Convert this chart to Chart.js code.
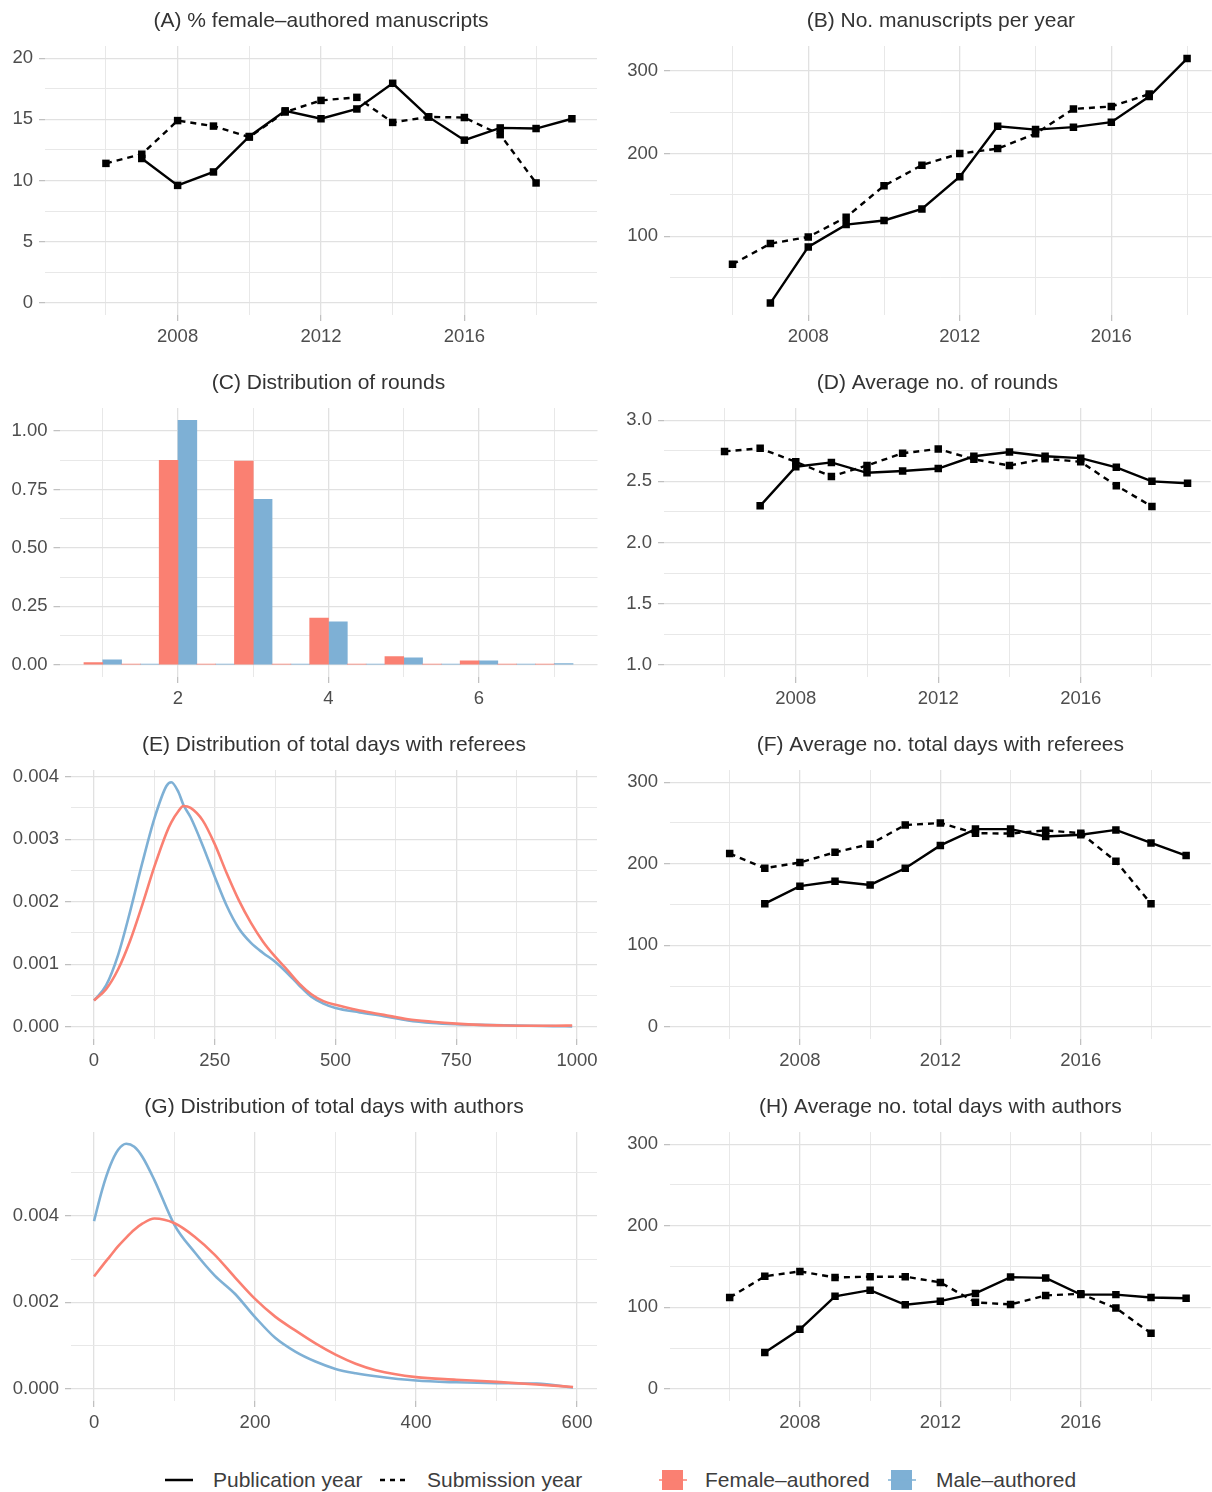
<!DOCTYPE html>
<html>
<head>
<meta charset="utf-8">
<script src="https://cdn.jsdelivr.net/npm/chart.js@4.4.0/dist/chart.umd.min.js"></script>
<style>
  body { margin: 0; background: #fff; }
  #wrap { position: relative; width: 1212px; height: 1492px; overflow: hidden; font-family: "Liberation Sans", Arial, Helvetica, sans-serif; }
  #wrap canvas { position: absolute; }
  .leg { position: absolute; top: 1468px; font-size: 21px; line-height: 24px; color: #3d3d3d; white-space: nowrap; }
  .key { position: absolute; }
</style>
</head>
<body>
<div id="wrap">
  <svg class="key" style="left:163px;top:1470px" width="32" height="20"><line x1="2" y1="10" x2="30" y2="10" stroke="#000" stroke-width="2.5"/></svg>
  <span class="leg" style="left:213px">Publication year</span>
  <svg class="key" style="left:378px;top:1470px" width="32" height="20"><line x1="2" y1="10" x2="30" y2="10" stroke="#000" stroke-width="2.5" stroke-dasharray="5,5"/></svg>
  <span class="leg" style="left:427px">Submission year</span>
  <svg class="key" style="left:659px;top:1469px" width="28" height="22"><rect x="3" y="1" width="21" height="20" fill="#FA8072"/><line x1="0" y1="11" x2="28" y2="11" stroke="#FA8072" stroke-width="1.5"/></svg>
  <span class="leg" style="left:705px">Female–authored</span>
  <svg class="key" style="left:888px;top:1469px" width="28" height="22"><rect x="3" y="1" width="21" height="20" fill="#7EB0D5"/><line x1="0" y1="11" x2="28" y2="11" stroke="#7EB0D5" stroke-width="1.5"/></svg>
  <span class="leg" style="left:936px">Male–authored</span>
</div>
<script>
Chart.defaults.font.family = '"Liberation Sans", Arial, Helvetica, sans-serif';
Chart.defaults.color = '#4d4d4d';
Chart.defaults.animation = false;

// ---- data ----
const pubYears = [2007, 2008, 2009, 2010, 2011, 2012, 2013, 2014, 2015, 2016, 2017, 2018, 2019];
const subYears = [2006, 2007, 2008, 2009, 2010, 2011, 2012, 2013, 2014, 2015, 2016, 2017, 2018];
const pubYearsB = [2007, 2008, 2009, 2010, 2011, 2012, 2013, 2014, 2015, 2016, 2017, 2018];
const subYearsB = [2006, 2007, 2008, 2009, 2010, 2011, 2012, 2013, 2014, 2015, 2016, 2017];

// (A) % female-authored
const aPub = [11.8, 9.6, 10.7, 13.6, 15.7, 15.05, 15.85, 17.95, 15.2, 13.3, 14.3, 14.25, 15.05];
const aSub = [11.4, 12.15, 14.9, 14.45, 13.55, 15.6, 16.55, 16.8, 14.75, 15.2, 15.15, 13.75, 9.8];

// (B) manuscripts per year
const bPub = [19, 87, 114, 119, 133, 172, 233, 229, 232, 238, 269, 315];
const bSub = [66, 91, 99, 123, 161, 186, 200, 206, 224, 254, 257, 272];

// (C) distribution of rounds (density, binwidth 0.5)
const roundBins = [1, 1.5, 2, 2.5, 3, 3.5, 4, 4.5, 5, 5.5, 6, 6.5, 7];
const roundsFemale = [0.009, 0.003, 0.875, 0.003, 0.871, 0.003, 0.2, 0.003, 0.035, 0.003, 0.017, 0.003, 0.003];
const roundsMale = [0.021, 0.003, 1.046, 0.003, 0.708, 0.003, 0.184, 0.003, 0.030, 0.003, 0.017, 0.003, 0.005];

// (D) average rounds
const dPub = [2.30, 2.62, 2.655, 2.57, 2.585, 2.605, 2.705, 2.74, 2.705, 2.69, 2.615, 2.50, 2.485];
const dSub = [2.745, 2.77, 2.66, 2.54, 2.63, 2.73, 2.765, 2.68, 2.63, 2.685, 2.66, 2.465, 2.295];

// (E) days with referees density
const refDays = [0, 25, 50, 75, 100, 125, 150, 160, 175, 185, 200, 225, 250, 275, 300, 325, 350, 375, 400, 425, 450, 475, 500, 550, 600, 650, 700, 750, 800, 850, 900, 950, 990];
const refFemale = [0.00042, 0.0006, 0.00092, 0.00138, 0.00195, 0.00256, 0.0031, 0.00327, 0.00345, 0.00353, 0.0035, 0.0033, 0.00292, 0.00245, 0.00202, 0.00166, 0.00136, 0.00112, 0.00091, 0.00069, 0.00052, 0.00041, 0.00035, 0.00026, 0.00019, 0.00012, 0.00008, 0.00005, 0.00003, 0.00002, 0.000016, 0.000016, 0.00002];
const refMale = [0.00042, 0.00066, 0.00115, 0.00185, 0.00262, 0.00333, 0.00385, 0.00391, 0.00375, 0.00355, 0.00335, 0.0029, 0.0024, 0.00193, 0.00157, 0.00134, 0.00118, 0.00104, 0.00086, 0.00066, 0.00048, 0.00037, 0.0003, 0.00023, 0.00017, 0.0001, 0.00006, 0.00004, 0.00003, 0.000025, 0.000015, 0.00001, 0.000005];

// (F) average days with referees
const fPub = [151, 172.5, 178.5, 174, 194.5, 222.5, 242.5, 242.5, 233.5, 235.5, 241.5, 225.5, 210];
const fSub = [212.5, 194.5, 201.5, 214, 224, 247.5, 250, 237.5, 237, 241, 237.5, 203, 151];

// (G) days with authors density
const authDays = [0, 10, 20, 30, 40, 50, 60, 75, 100, 125, 150, 175, 200, 225, 250, 275, 300, 325, 350, 400, 450, 500, 550, 595];
const authFemale = [0.0026, 0.00284, 0.00307, 0.0033, 0.0035, 0.00368, 0.00382, 0.00394, 0.00383, 0.00352, 0.0031, 0.00258, 0.00208, 0.00167, 0.00135, 0.00105, 0.00079, 0.00058, 0.00043, 0.00027, 0.00021, 0.00016, 0.0001, 0.00004];
const authMale = [0.00388, 0.0046, 0.00516, 0.00553, 0.00567, 0.0056, 0.00537, 0.00483, 0.00379, 0.00316, 0.00262, 0.0022, 0.00166, 0.00118, 0.00086, 0.00063, 0.00046, 0.00036, 0.00029, 0.00019, 0.00015, 0.00013, 0.00012, 0.00003];

// (H) average days with authors
const hPub = [44.5, 73, 113.5, 121, 103, 107.5, 117, 137, 136, 115.5, 115.5, 112, 111];
const hSub = [112, 138, 144, 136.5, 137.5, 137.5, 130.5, 106, 103.5, 114.5, 116.5, 99, 68];

// ---- ticks ----
const yearMajor = [2008, 2012, 2016];
const yearMinor = [2006, 2010, 2014, 2018];
const aYMajor = [0, 5, 10, 15, 20];
const aYMinor = [2.5, 7.5, 12.5, 17.5];
const bYMajor = [100, 200, 300];
const bYMinor = [50, 150, 250];
const cXMajor = [2, 4, 6];
const cXMinor = [1, 3, 5, 7];
const cYMajor = [0, 0.25, 0.5, 0.75, 1];
const cYMinor = [0.125, 0.375, 0.625, 0.875];
const dYMajor = [1, 1.5, 2, 2.5, 3];
const dYMinor = [1.25, 1.75, 2.25, 2.75];
const eXMajor = [0, 250, 500, 750, 1000];
const eXMinor = [125, 375, 625, 875];
const eYMajor = [0, 0.001, 0.002, 0.003, 0.004];
const eYMinor = [0.0005, 0.0015, 0.0025, 0.0035];
const daysYMajor = [0, 100, 200, 300];
const daysYMinor = [50, 150, 250];
const gXMajor = [0, 200, 400, 600];
const gXMinor = [100, 300, 500];
const gYMajor = [0, 0.002, 0.004];
const gYMinor = [0.001, 0.003, 0.005];

const FEMALE = '#FA8072';
const MALE = '#7EB0D5';

const pts = (xs, ys) => xs.map((x, i) => ({ x: x, y: ys[i] }));

function axis(range, major, minor, digits, size, isX) {
  const all = major.concat(minor).sort((a, b) => a - b);
  const isMajor = v => major.some(m => Math.abs(m - v) < 1e-9);
  const tv = ctx => ctx.tick ? ctx.tick.value : NaN;
  return {
    type: 'linear',
    min: range[0],
    max: range[1],
    offset: false,
    afterBuildTicks: s => { s.ticks = all.map(v => ({ value: v })); },
    afterFit: s => { if (isX) s.height = size; else s.width = size; },
    ticks: {
      autoSkip: false,
      maxRotation: 0,
      padding: isX ? 5 : 6,
      font: { size: 18.5 },
      color: '#4d4d4d',
      callback: v => isMajor(v) ? v.toFixed(digits) : ''
    },
    grid: {
      offset: false,
      color: ctx => isMajor(tv(ctx)) ? '#e1e1e1' : '#e8e8e8',
      lineWidth: ctx => isMajor(tv(ctx)) ? 1.3 : 1,
      tickLength: 6,
      tickColor: ctx => isMajor(tv(ctx)) ? '#bdbdbd' : 'rgba(0,0,0,0)',
      tickWidth: 1.2
    },
    border: { display: false }
  };
}

function yearLines(px, py, sx, sy) {
  const base = {
    borderColor: '#000', backgroundColor: '#000', borderWidth: 2.4,
    pointStyle: 'rect', pointRadius: 5.3, pointBorderWidth: 0,
    pointBackgroundColor: '#000', tension: 0
  };
  return [
    Object.assign({}, base, { label: 'Publication year', data: pts(px, py) }),
    Object.assign({}, base, { label: 'Submission year', data: pts(sx, sy), borderDash: [6, 5] })
  ];
}

function densLines(xs, f, m) {
  const base = { borderWidth: 2.6, pointRadius: 0, cubicInterpolationMode: 'monotone' };
  return [
    Object.assign({}, base, { label: 'Female–authored', data: pts(xs, f), borderColor: FEMALE }),
    Object.assign({}, base, { label: 'Male–authored', data: pts(xs, m), borderColor: MALE })
  ];
}

const wrap = document.getElementById('wrap');

function panel(left, top, type, title, datasets, xScale, yScale, padRight) {
  const c = document.createElement('canvas');
  c.width = 606; c.height = 360;
  c.style.left = left + 'px';
  c.style.top = top + 'px';
  wrap.appendChild(c);
  const chart = new Chart(c, {
    type: type,
    data: { datasets: datasets },
    options: {
      responsive: false,
      maintainAspectRatio: false,
      animation: false,
      layout: { padding: { left: 0, right: padRight, top: 0, bottom: 0 } },
      plugins: {
        legend: { display: false },
        tooltip: { enabled: false },
        title: {
          display: true, text: title, fullSize: false, color: '#333333',
          font: { size: 21, weight: 'normal' },
          padding: { top: 8.2, bottom: 12.6 }
        }
      },
      scales: { x: xScale, y: yScale }
    }
  });
  // the layout keeps a few px free on the right; widen the canvas so the panel reaches its edge
  const short = Math.round(606 - padRight - chart.chartArea.right);
  if (short > 0) chart.resize(606 + short, 360);
}

panel(0, 0, 'line', '(A) % female–authored manuscripts',
  yearLines(pubYears, aPub, subYears, aSub),
  axis([2004.3, 2019.7], yearMajor, yearMinor, 0, 45, true),
  axis([-1, 21], aYMajor, aYMinor, 0, 45, false), 9);

panel(606, 0, 'line', '(B) No. manuscripts per year',
  yearLines(pubYearsB, bPub, subYearsB, bSub),
  axis([2004.35, 2018.65], yearMajor, yearMinor, 0, 45, true),
  axis([4.6, 330.2], bYMajor, bYMinor, 0, 64, false), 0);

panel(0, 362, 'bar', '(C) Distribution of rounds',
  [
    { label: 'Female–authored', data: pts(roundBins, roundsFemale), backgroundColor: FEMALE, borderWidth: 0, categoryPercentage: 1, barPercentage: 1 },
    { label: 'Male–authored', data: pts(roundBins, roundsMale), backgroundColor: MALE, borderWidth: 0, categoryPercentage: 1, barPercentage: 1 }
  ],
  axis([0.425, 7.575], cXMajor, cXMinor, 0, 45, true),
  axis([-0.0523, 1.0983], cYMajor, cYMinor, 2, 59.5, false), 8.5);

panel(606, 362, 'line', '(D) Average no. of rounds',
  yearLines(pubYears, dPub, subYears, dSub),
  axis([2004.3, 2019.65], yearMajor, yearMinor, 0, 45, true),
  axis([0.9, 3.1], dYMajor, dYMinor, 1, 58, false), 1);

panel(0, 724, 'line', '(E) Distribution of total days with referees',
  densLines(refDays, refFemale, refMale),
  axis([-47.6, 1041.4], eXMajor, eXMinor, 0, 45, true),
  axis([-0.000196, 0.004106], eYMajor, eYMinor, 3, 71, false), 9);

panel(606, 724, 'line', '(F) Average no. total days with referees',
  yearLines(pubYears, fPub, subYears, fSub),
  axis([2004.3, 2019.7], yearMajor, yearMinor, 0, 45, true),
  axis([-15, 315], daysYMajor, daysYMinor, 0, 64, false), 1);

panel(0, 1086, 'line', '(G) Distribution of total days with authors',
  densLines(authDays, authFemale, authMale),
  axis([-28.6, 624.8], gXMajor, gXMinor, 0, 45, true),
  axis([-0.000283, 0.005943], gYMajor, gYMinor, 3, 71, false), 9);

panel(606, 1086, 'line', '(H) Average no. total days with authors',
  yearLines(pubYears, hPub, subYears, hSub),
  axis([2004.3, 2019.7], yearMajor, yearMinor, 0, 45, true),
  axis([-15, 315], daysYMajor, daysYMinor, 0, 64, false), 1);
</script>
</body>
</html>
